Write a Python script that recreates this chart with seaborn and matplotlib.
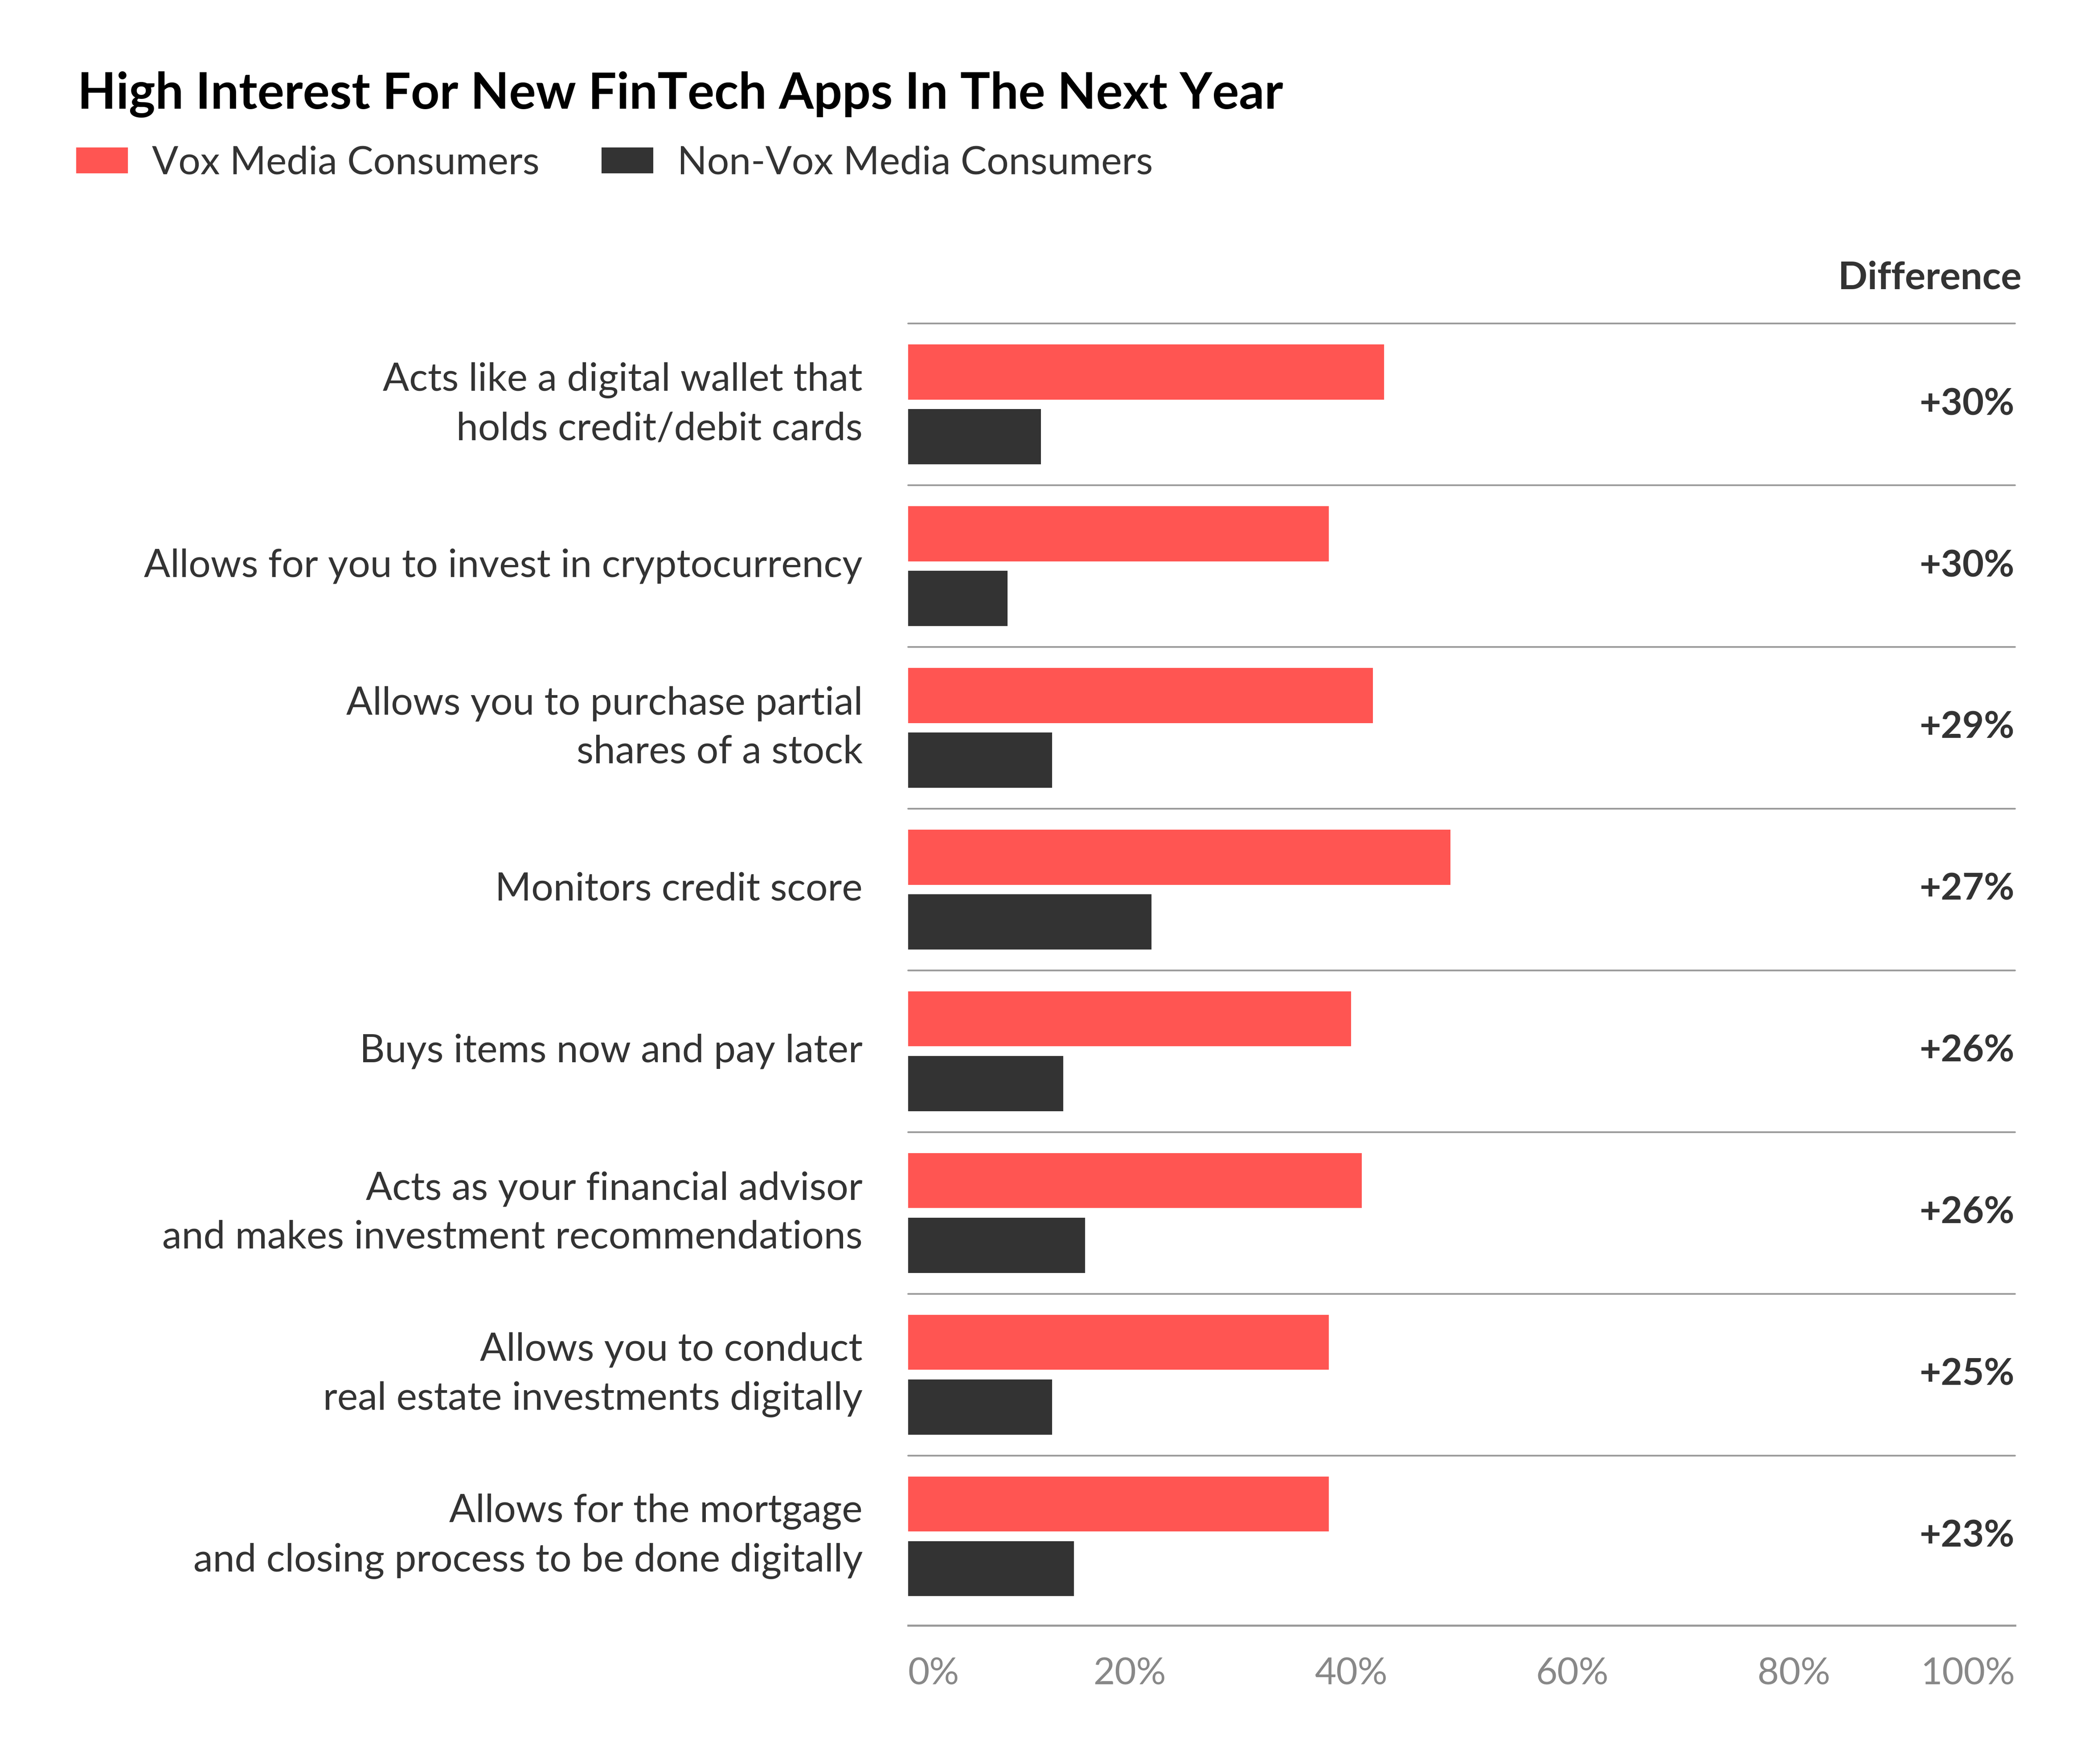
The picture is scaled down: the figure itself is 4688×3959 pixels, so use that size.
import pandas as pd
import numpy as np
import seaborn as sns
import matplotlib.pyplot as plt

# data
features = ["Acts like a digital wallet that\nholds credit/debit cards",
            "Allows for you to invest in cryptocurrency",
            "Allows you to purchase partial\nshares of a stock",
            "Monitors credit score",
            "Buys items now and pay later",
            "Acts as your financial advisor\nand makes investment recommendations",
            "Allows you to conduct\nreal estate investments digitally",
            "Allows for the mortgage\nand closing process to be done digitally"]
vox = [43, 38, 42, 49, 40, 41, 38, 38]
non_vox = [12, 9, 13, 22, 14, 16, 13, 15]
difference = ["+30%", "+30%", "+29%", "+27%", "+26%", "+26%", "+25%", "+23%"]
groups = ["Vox Media Consumers", "Non-Vox Media Consumers"]
ticks = [0, 20, 40, 60, 80, 100]
tick_labels = ["0%", "20%", "40%", "60%", "80%", "100%"]

df = pd.DataFrame({"feature": features * 2,
                   "value": vox + non_vox,
                   "group": [groups[0]] * len(vox) + [groups[1]] * len(non_vox)})

sns.set_style("white")
plt.rcParams['font.family'] = ['Lato', 'DejaVu Sans']

fig = plt.figure(figsize=(4688 / 300, 3959 / 300), dpi=300)
ax = fig.add_axes([0.4347, 0.0786, 0.5299, 0.738])

sns.barplot(data=df, y="feature", x="value", hue="group", orient="h",
            palette=["#FF5552", "#333333"], saturation=1, width=0.8, gap=0.15,
            errorbar=None, linewidth=0, ax=ax)

ax.set_xlim(0, 100)
ax.set_ylim(len(features) - 0.45, -0.5)
ax.set_xlabel("")
ax.set_ylabel("")

# row separators
for k in range(len(features)):
    ax.axhline(k - 0.5, color="#999999", lw=0.9, zorder=0, clip_on=False)

sns.despine(ax=ax, left=True)
ax.spines["bottom"].set_color("#999999")
ax.spines["bottom"].set_linewidth(1.1)

ax.set_xticks(ticks, tick_labels)
ax.tick_params(axis="x", length=5.3, width=0.8, color="#aaaaaa",
               labelcolor="#888888", labelsize=20, pad=12)
ax.tick_params(axis="y", length=0, pad=24.5, labelsize=21, labelcolor="#333333")
xl = ax.get_xticklabels()
xl[0].set_ha("left")
xl[-1].set_ha("right")
for t in ax.get_yticklabels():
    t.set_linespacing(1.47)
    t.set_va("center")

for i, d in enumerate(difference):
    ax.text(99.95, i, d, ha="right", va="center", fontsize=20,
            fontweight="bold", color="#333333", clip_on=False)
ax.text(100.6, -0.78, "Difference", ha="right", va="center", fontsize=20.8,
        fontweight="bold", color="#333333", clip_on=False)

sns.move_legend(ax, loc="center left", bbox_to_anchor=(171 / 4688, 1 - 366 / 3959),
                bbox_transform=fig.transFigure, ncol=2, frameon=False, title=None,
                fontsize=21, handlelength=1.32, handleheight=0.64,
                handletextpad=0.62, columnspacing=1.6, borderpad=0,
                borderaxespad=0, labelcolor="#333333")

fig.text(0.0371, 1 - 212 / 3959, "High Interest For New FinTech Apps In The Next Year",
         fontsize=27, fontweight="bold", color="black", va="center")

fig.savefig("out.png", dpi=300, facecolor="white")
